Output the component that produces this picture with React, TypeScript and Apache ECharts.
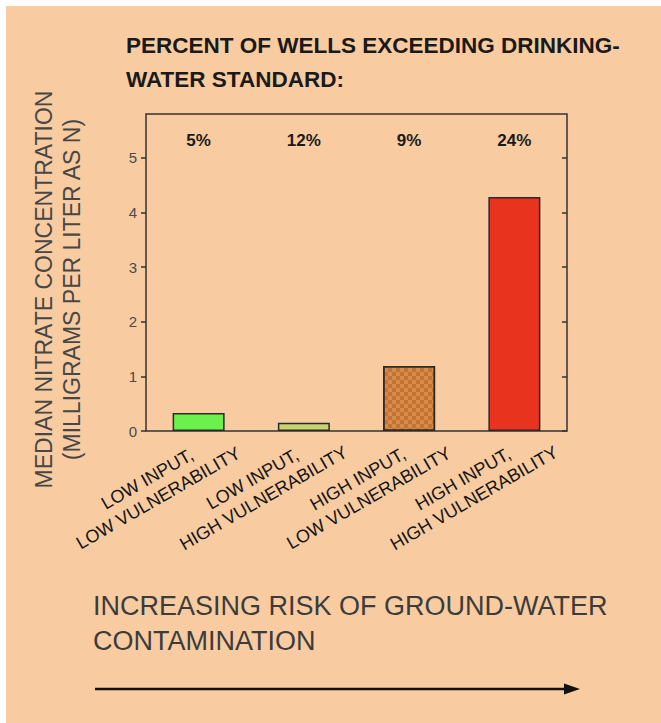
import React, { useEffect, useRef } from 'react';
import * as echarts from 'echarts';

// ---- data ----
const inputLevels = ['LOW INPUT,', 'LOW INPUT,', 'HIGH INPUT,', 'HIGH INPUT,'];
const vulnerabilityLevels = ['LOW VULNERABILITY', 'HIGH VULNERABILITY', 'LOW VULNERABILITY', 'HIGH VULNERABILITY'];
const categories = inputLevels.map((a, i) => a + '\n' + vulnerabilityLevels[i]);
const medianNitrate = [0.33, 0.15, 1.19, 4.28];
const pctExceeding = [5, 12, 9, 24];
const yTickValues = [0, 1, 2, 3, 4, 5];

const titleLines = ['PERCENT OF WELLS EXCEEDING DRINKING-', 'WATER STANDARD:'];
const yAxisTitle = ['MEDIAN NITRATE CONCENTRATION', '(MILLIGRAMS PER LITER AS N)'];
const riskLines = ['INCREASING RISK OF GROUND-WATER', 'CONTAMINATION'];

// ---- styles ----
const barColors = ['#6CF04C', '#C9D26E', '#D98A45', '#E8341F'];
const FONT = '"Liberation Sans", Arial, sans-serif';
const PEACH = '#F8CCA0';

export default function App() {
  const ref = useRef<HTMLDivElement>(null);
  useEffect(() => {
    if (!ref.current) return;
    const chart = echarts.init(ref.current, undefined, { renderer: 'svg' });
    const option: any = {
      animation: false,
      backgroundColor: PEACH,
      textStyle: { fontFamily: FONT },
      grid: {
        left: 146, right: 94, top: 114, bottom: 292,
        show: true, borderColor: '#333', borderWidth: 1.5, backgroundColor: 'transparent',
        outerBoundsMode: 'none',
      },
      xAxis: [
        {
          type: 'category',
          data: categories,
          position: 'bottom',
          axisLine: { show: false },
          axisTick: { show: false },
          splitLine: { show: false },
          axisLabel: {
            interval: 0,
            rotate: 30,
            margin: 0,
            align: 'center',
            verticalAlign: 'middle',
            padding: [54, 137, 0, 0],
            fontFamily: FONT,
            fontSize: 18,
            color: '#151515',
            lineHeight: 22,
            formatter: (v: string) => v.split('\n').map((s) => '{a|' + s + '}').join('\n'),
            rich: { a: { align: 'center', fontSize: 18, lineHeight: 22, color: '#151515', fontFamily: FONT } },
          },
        },
        {
          type: 'category',
          data: categories,
          position: 'top',
          axisLine: { show: false },
          axisTick: { show: false },
          splitLine: { show: false },
          axisLabel: {
            interval: 0,
            inside: true,
            margin: 26,
            verticalAlign: 'middle',
            fontFamily: FONT,
            fontSize: 17,
            fontWeight: 'bold',
            color: '#1a1a1a',
            formatter: (_v: string, i: number) => pctExceeding[i] + '%',
          },
        },
      ],
      yAxis: [
        {
          type: 'value',
          min: 0,
          max: 5.8,
          interval: 1,
          position: 'left',
          name: yAxisTitle.join('\n'),
          nameLocation: 'middle',
          nameRotate: 90,
          nameGap: 60,
          nameMoveOverlap: false,
          nameTextStyle: {
            fontFamily: FONT,
            fontSize: 23,
            color: '#474747',
            lineHeight: 28,
            align: 'center',
            padding: [0, 34, 0, 0],
          },
          axisLine: { show: false },
          splitLine: { show: false },
          axisTick: { show: true, length: 5, lineStyle: { color: '#333', width: 1.5 }, customValues: yTickValues },
          axisLabel: { margin: 9, fontSize: 15, color: '#4a4a4a', fontFamily: FONT, customValues: yTickValues },
        },
        {
          type: 'value',
          min: 0,
          max: 5.8,
          interval: 1,
          position: 'right',
          axisLine: { show: false },
          splitLine: { show: false },
          axisTick: { show: true, inside: true, length: 5, lineStyle: { color: '#333', width: 1.5 }, customValues: yTickValues },
          axisLabel: { show: false },
        },
      ],
      series: [
        {
          type: 'bar',
          xAxisIndex: 0,
          yAxisIndex: 0,
          barWidth: 52,
          data: medianNitrate.map((v, i) => ({
            value: v,
            itemStyle: {
              color: barColors[i],
              borderColor: '#2a2a2a',
              borderWidth: 1.5,
              decal:
                i === 2
                  ? {
                      symbol: 'rect',
                      symbolSize: 1,
                      color: 'rgba(150,75,25,0.35)',
                      dashArrayX: [[4, 4], [0, 4, 4, 0]],
                      dashArrayY: [4, 0],
                    }
                  : undefined,
            },
          })),
        },
      ],
      graphic: [
        { type: 'rect', shape: { x: 0, y: 0, width: 661, height: 6 }, style: { fill: '#fff' }, silent: true },
        { type: 'rect', shape: { x: 0, y: 0, width: 6, height: 723 }, style: { fill: '#fff' }, silent: true },
        ...titleLines.map((t, i) => ({
          type: 'text',
          x: 126,
          y: 45 + i * 34,
          style: { text: t, fontFamily: FONT, fontSize: 22.5, fontWeight: 'bold', fill: '#1a1a1a', verticalAlign: 'middle' },
        })),
        ...riskLines.map((t, i) => ({
          type: 'text',
          x: 93,
          y: 606 + i * 35,
          style: { text: t, fontFamily: FONT, fontSize: 27, fill: '#3c3c3c', verticalAlign: 'middle' },
        })),
        { type: 'line', shape: { x1: 95, y1: 689, x2: 568, y2: 689 }, style: { stroke: '#111', lineWidth: 2.5 } },
        { type: 'polygon', shape: { points: [[564, 683.5], [580, 689], [564, 694.5]] }, style: { fill: '#111' } },
      ],
    };
    chart.setOption(option);
    return () => chart.dispose();
  }, []);
  return <div ref={ref} style={{ position: 'absolute', left: 0, top: 0, width: 661, height: 723 }} />;
}
